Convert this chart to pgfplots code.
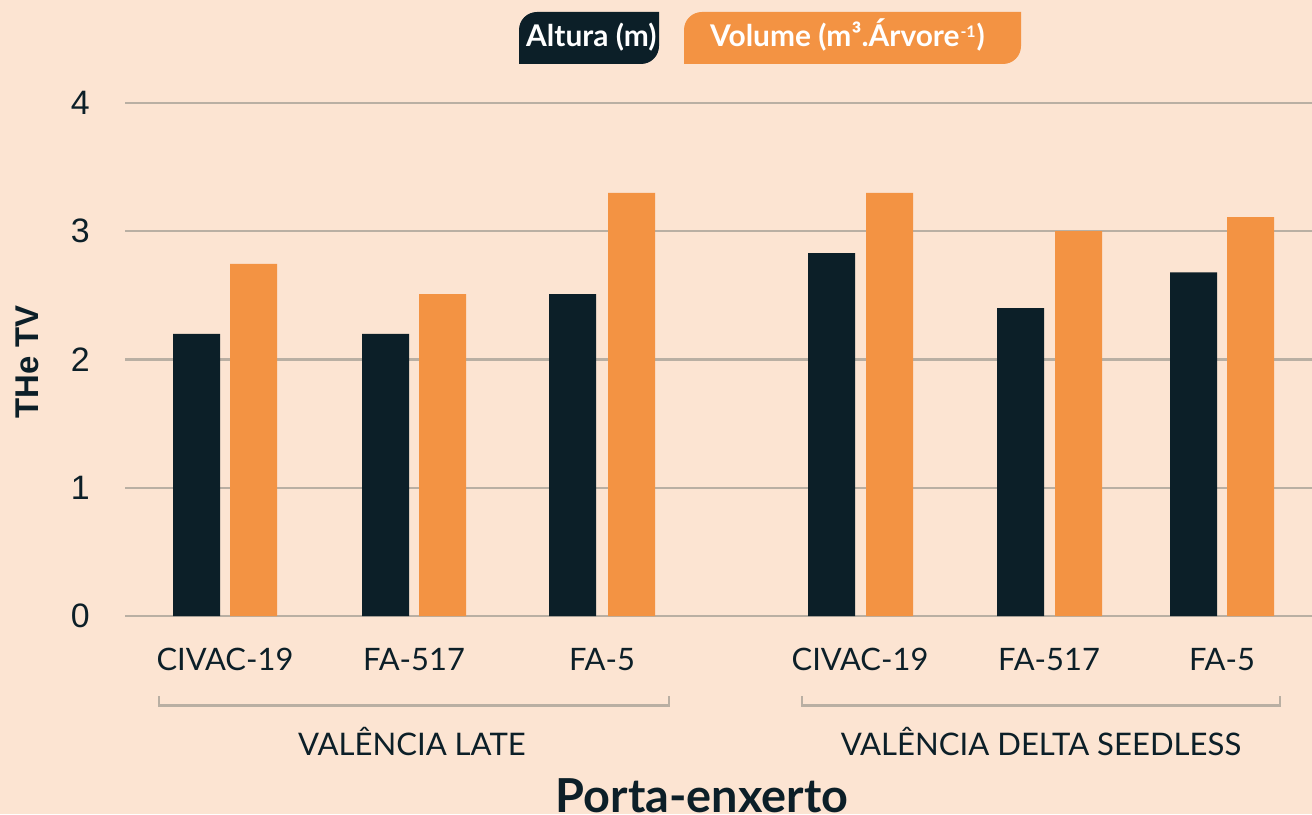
\documentclass[border=0pt]{standalone}
\usepackage{fontspec}
\usepackage{pgfplots}
\pgfplotsset{compat=1.18}
\usetikzlibrary{backgrounds}
\setmainfont{Lato}
\newfontfamily\arialf{Liberation Sans}
\definecolor{bg}{HTML}{FCE4D2}
\definecolor{dk}{HTML}{0C1F28}
\definecolor{org}{HTML}{F39343}
\definecolor{grd}{HTML}{B9AFA3}
\begin{document}
\begin{tikzpicture}
\begin{axis}[
  x=1bp, y=128.25bp,
  xmin=125, xmax=1312, ymin=0, ymax=4,
  enlargelimits=false,
  clip=false,
  axis line style={draw=none},
  major tick length=0pt,
  ymajorgrids, grid style={grd, line width=2.3bp},
  ytick={0,1,2,3,4},
  yticklabel style={font=\arialf\fontsize{34}{40}\selectfont, text=dk, inner sep=0pt, anchor=east, xshift=-35bp},
  /pgf/number format/assume math mode=true,
  xtick={225,414,602,860,1049,1222},
  xticklabels={CIVAC-19,FA-517,FA-5,CIVAC-19,FA-517,FA-5},
  xticklabel style={font=\fontsize{31}{36}\selectfont, text=dk, inner sep=0pt, anchor=north, yshift=-32bp},
  ybar, bar width=47,
]
\addplot[fill=dk, draw=none, bar shift=0pt] coordinates {(196.5,2.20) (385.5,2.20) (572.5,2.51) (831.5,2.83) (1020.5,2.40) (1193.5,2.68)};
\addplot[fill=org, draw=none, bar shift=0pt] coordinates {(253.5,2.745) (442.5,2.51) (631.5,3.30) (889.5,3.30) (1078.5,3.00) (1250.5,3.11)};
\coordinate (O) at (axis cs:0,4.80312);
\end{axis}
\begin{scope}[shift={(O)}, x=1bp, y=-1bp]
  % legend boxes
  \fill[dk] (519,64) -- (519,30) .. controls (519,20) and (527,12) .. (537,12) -- (659,12) -- (659,46) .. controls (659,56) and (651,64) .. (641,64) -- cycle;
  \fill[org] (684,64) -- (684,30) .. controls (684,20) and (692,12) .. (702,12) -- (1021,12) -- (1021,46) .. controls (1021,56) and (1013,64) .. (1003,64) -- cycle;
  \node[anchor=base west, inner sep=0pt, text=white, font=\bfseries\fontsize{30}{36}\selectfont] at (526,47) {Altura (m)};
  \node[anchor=base west, inner sep=0pt, text=white, font=\bfseries\fontsize{30}{36}\selectfont] at (710,47) {Volume (m³.Árvore\kern1bp\raisebox{9bp}{\fontsize{16}{16}\selectfont -1}\kern1bp)};
  % brackets
  \draw[grd, line width=2.5bp] (159,696) -- (159,705.5) -- (669,705.5) -- (669,696);
  \draw[grd, line width=2.5bp] (802,696) -- (802,705.5) -- (1280,705.5) -- (1280,696);
  \node[anchor=base, inner sep=0pt, text=dk, font=\fontsize{31.2}{36}\selectfont] at (412,755) {VALÊNCIA LATE};
  \node[anchor=base, inner sep=0pt, text=dk, font=\fontsize{31.2}{36}\selectfont] at (1041,755) {VALÊNCIA DELTA SEEDLESS};
  \node[anchor=base, inner sep=0pt, text=dk, font=\bfseries\fontsize{47}{52}\selectfont] at (702,812.5) {Porta-enxerto};
  \node[rotate=90, inner sep=0pt, text=dk, font=\arialf\bfseries\fontsize{33}{38}\selectfont] at (27,362) {THe TV};
\end{scope}
\begin{scope}[on background layer, shift={(O)}, x=1bp, y=-1bp]
  \fill[bg] (0,0) rectangle (1312,814);
\end{scope}
\pgfresetboundingbox
\path[use as bounding box, shift={(O)}, x=1bp, y=-1bp] (0,0) rectangle (1312,814);
\end{tikzpicture}
\end{document}
